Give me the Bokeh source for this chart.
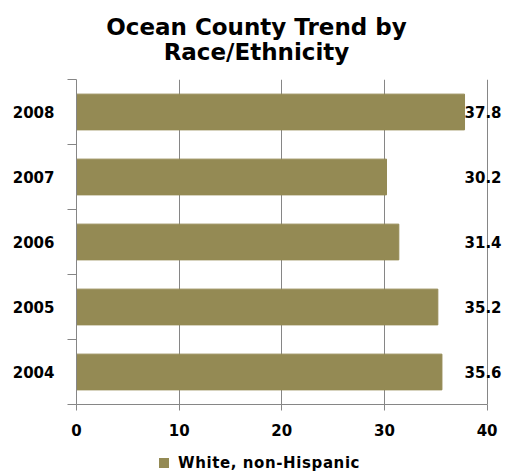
from bokeh.plotting import figure
from bokeh.models import ColumnDataSource, FixedTicker, LabelSet, Range1d, Div
from bokeh.layouts import column
from bokeh.core.properties import value
from bokeh.embed import file_html
from bokeh.resources import INLINE

years = ["2004", "2005", "2006", "2007", "2008"]
values = [35.6, 35.2, 31.4, 30.2, 37.8]
x_ticks = [0, 10, 20, 30, 40]
series_name = "White, non-Hispanic"
title_lines = ["Ocean County Trend by", "Race/Ethnicity"]

BAR = "#948A54"
GRID = "#868686"
FONT = "DejaVu Sans"

pos = [i + 0.5 for i in range(len(years))]
labels = [f"{v:.1f}" for v in values]
src = ColumnDataSource(dict(y=pos, v=values, lab=labels, lx=[max(values)] * len(values)))

W = 506
TITLE_H = 77
FIG_H = 363
LEG_H = 33

title_div = Div(text="<br>".join(title_lines), width=W, height=TITLE_H, margin=0,
                styles={"font-family": FONT, "font-weight": "bold", "font-size": "23px",
                        "line-height": "25px", "text-align": "center", "color": "black",
                        "padding-top": "15px", "padding-left": "7px", "box-sizing": "border-box",
                        "width": f"{W}px"})

p = figure(width=W, height=FIG_H, output_backend="svg", toolbar_location=None,
           x_range=Range1d(0, 41.5), y_range=Range1d(0, len(years)),
           min_border_left=76, min_border_right=4, min_border_top=2, min_border_bottom=36,
           margin=0)
p.outline_line_color = None

r = p.hbar(y="y", right="v", left=0, height=0.55, source=src, color=BAR, line_color=BAR)

p.add_layout(LabelSet(x="lx", y="y", text="lab", source=src, text_align="left",
                      text_baseline="middle", text_font=value(FONT), text_font_style="bold",
                      text_font_size="15px", text_color="black"))

p.xaxis.ticker = FixedTicker(ticks=x_ticks)
p.xaxis.bounds = (x_ticks[0], x_ticks[-1])
p.xaxis.axis_line_color = GRID
p.xaxis.major_tick_line_color = GRID
p.xaxis.major_tick_out = 6
p.xaxis.major_tick_in = 0
p.xaxis.minor_tick_line_color = None
p.xaxis.major_label_standoff = 13
p.xaxis.major_label_text_font = FONT
p.xaxis.major_label_text_font_style = "bold"
p.xaxis.major_label_text_font_size = "15px"
p.xaxis.major_label_text_color = "black"

p.yaxis.ticker = FixedTicker(ticks=pos, minor_ticks=list(range(len(years) + 1)))
p.yaxis.major_label_overrides = {pp: y for pp, y in zip(pos, years)}
p.yaxis.axis_line_color = GRID
p.yaxis.major_tick_line_color = None
p.yaxis.major_tick_out = 0
p.yaxis.major_tick_in = 0
p.yaxis.minor_tick_line_color = GRID
p.yaxis.minor_tick_out = 9
p.yaxis.minor_tick_in = 0
p.yaxis.major_label_standoff = 13
p.yaxis.major_label_text_font = FONT
p.yaxis.major_label_text_font_style = "bold"
p.yaxis.major_label_text_font_size = "15px"
p.yaxis.major_label_text_color = "black"

p.xgrid.ticker = FixedTicker(ticks=x_ticks)
p.xgrid.grid_line_color = GRID
p.ygrid.grid_line_color = None

legend_div = Div(
    text=(f'<span style="display:inline-block;width:10px;height:10px;background:{BAR};'
          f'margin-right:9px;vertical-align:middle"></span>'
          f'<span style="vertical-align:middle">{series_name}</span>'),
    width=W, height=LEG_H, margin=0,
    styles={"font-family": FONT, "font-weight": "bold", "font-size": "15px", "color": "black",
            "letter-spacing": "0.6px",
            "padding-left": "159px", "padding-top": "13px", "box-sizing": "border-box",
            "width": f"{W}px", "line-height": "18px", "white-space": "nowrap"})

layout = column(title_div, p, legend_div, spacing=0)
open("out.html", "w").write(file_html(layout, INLINE))
